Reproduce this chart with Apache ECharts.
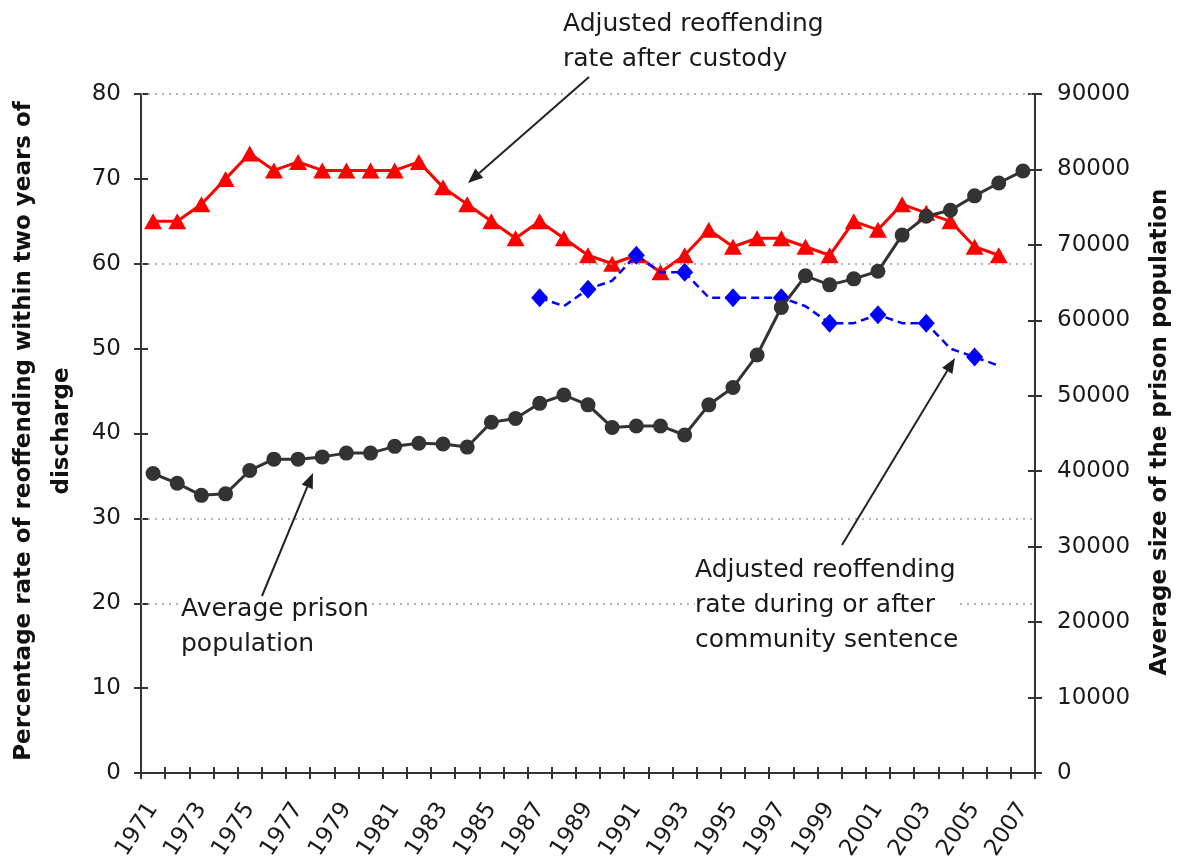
<!DOCTYPE html>
<html>
<head>
<meta charset="utf-8">
<title>Reoffending rates and prison population, 1971–2007</title>
<script src="https://cdn.jsdelivr.net/npm/echarts@6/dist/echarts.min.js"></script>
<style>
  html, body { margin: 0; padding: 0; background: #ffffff; }
  #chart { width: 1180px; height: 863px; }
</style>
</head>
<body>
<div id="chart"></div>
<script>
// Years on the category axis
const years = ['1971','1972','1973','1974','1975','1976','1977','1978','1979','1980',
  '1981','1982','1983','1984','1985','1986','1987','1988','1989','1990',
  '1991','1992','1993','1994','1995','1996','1997','1998','1999','2000',
  '2001','2002','2003','2004','2005','2006','2007'];

// Adjusted reoffending rate after custody (%), 1971–2006
const custodyRate = [65, 65, 67, 70, 73, 71, 72, 71, 71, 71,
  71, 72, 69, 67, 65, 63, 65, 63, 61, 60,
  61, 59, 61, 64, 62, 63, 63, 62, 61, 65,
  64, 67, 66, 65, 62, 61];

// Adjusted reoffending rate during or after community sentence (%), 1987–2006
const communityYears = ['1987','1988','1989','1990','1991','1992','1993','1994','1995','1996',
  '1997','1998','1999','2000','2001','2002','2003','2004','2005','2006'];
const communityRate = [56, 55, 57, 58, 61, 59, 59, 56, 56, 56,
  56, 55, 53, 53, 54, 53, 53, 50, 49, 48];

// Average prison population, 1971–2007
const prisonPopulation = [39700, 38400, 36800, 37000, 40100, 41600, 41600, 41900, 42400, 42400,
  43300, 43700, 43600, 43200, 46500, 47000, 49000, 50100, 48800, 45800,
  46000, 46000, 44800, 48800, 51100, 55400, 61700, 65900, 64700, 65500,
  66500, 71300, 73800, 74600, 76500, 78200, 79800];

// Left-axis levels that carry a dotted guide line
const guideLevels = [20, 30, 60, 80];

const FONT = 'DejaVu Sans';
const AXIS_COLOR = '#333333';
const TEXT_COLOR = '#1a1a1a';

const chart = echarts.init(document.getElementById('chart'), null, { renderer: 'canvas' });

const gridBox = { left: 141, right: 145, top: 94, bottom: 90 };

function valueAxis(position, max, interval, withLabels) {
  return {
    type: 'value',
    position: position,
    min: 0,
    max: max,
    interval: interval,
    splitLine: { show: false },
    axisLine: { show: withLabels, lineStyle: { color: AXIS_COLOR, width: 2 } },
    axisTick: { show: true, inside: !withLabels, length: 7, lineStyle: { color: AXIS_COLOR, width: 2 } },
    axisLabel: withLabels ? {
      show: true, fontFamily: FONT, fontSize: 23, color: TEXT_COLOR,
      margin: position === 'left' ? 20 : 22,
      formatter: v => String(v)
    } : { show: false }
  };
}

// Arrow from (x1,y1) pointing at (x2,y2)
function arrow(x1, y1, x2, y2) {
  const ang = Math.atan2(y2 - y1, x2 - x1);
  const len = 15, half = 6;
  const bx = x2 - len * Math.cos(ang), by = y2 - len * Math.sin(ang);
  const px = -Math.sin(ang) * half, py = Math.cos(ang) * half;
  return [
    { type: 'line', silent: true, z: 50,
      shape: { x1: x1, y1: y1, x2: bx, y2: by },
      style: { stroke: '#222', lineWidth: 2 } },
    { type: 'polygon', silent: true, z: 50,
      shape: { points: [[x2, y2], [bx + px, by + py], [bx - px, by - py]] },
      style: { fill: '#222' } }
  ];
}

function note(x, y, text) {
  return {
    type: 'text', silent: true, z: 40, left: x, top: y,
    style: {
      text: text, font: '25px "' + FONT + '"', fill: TEXT_COLOR,
      lineHeight: 35, backgroundColor: '#ffffff'
    }
  };
}

const option = {
  animation: false,
  backgroundColor: '#ffffff',
  grid: gridBox,
  xAxis: [
    {
      type: 'category',
      data: years,
      boundaryGap: true,
      axisLine: { lineStyle: { color: AXIS_COLOR, width: 2 } },
      axisTick: { show: true, interval: 0, length: 6, lineStyle: { color: AXIS_COLOR, width: 2 } },
      axisLabel: { interval: 1, rotate: 57, fontFamily: FONT, fontSize: 23, color: TEXT_COLOR, margin: 32 },
      splitLine: { show: false }
    },
    {
      type: 'category',
      data: years,
      position: 'bottom',
      boundaryGap: true,
      axisLine: { show: false },
      axisTick: { show: true, inside: true, interval: 0, length: 6, lineStyle: { color: AXIS_COLOR, width: 2 } },
      axisLabel: { show: false },
      splitLine: { show: false }
    }
  ],
  yAxis: [
    valueAxis('left', 80, 10, true),
    valueAxis('right', 90000, 10000, true),
    valueAxis('left', 80, 10, false),
    valueAxis('right', 90000, 10000, false)
  ],
  series: [
    {
      name: 'guides',
      type: 'line',
      yAxisIndex: 0,
      data: [],
      silent: true,
      z: 1,
      markLine: {
        silent: true,
        symbol: ['none', 'none'],
        label: { show: false },
        lineStyle: { color: '#9a9a9a', type: [2, 5], width: 1.5 },
        data: guideLevels.map(v => ({ yAxis: v }))
      }
    },
    {
      name: 'Adjusted reoffending rate after custody',
      type: 'line',
      yAxisIndex: 0,
      data: custodyRate,
      symbol: 'triangle',
      symbolSize: [18, 16],
      itemStyle: { color: '#ff0000' },
      lineStyle: { color: '#ff0000', width: 3 },
      z: 3
    },
    {
      name: 'Adjusted reoffending rate during or after community sentence',
      type: 'line',
      yAxisIndex: 0,
      data: communityYears.map((y, i) => [y, communityRate[i]]),
      symbol: 'diamond',
      symbolSize: [17, 19],
      itemStyle: { color: '#0000ff' },
      lineStyle: { color: '#0000ff', width: 2.5, type: [8, 5] },
      z: 4
    },
    {
      name: 'Average prison population',
      type: 'line',
      yAxisIndex: 1,
      data: prisonPopulation,
      symbol: 'circle',
      symbolSize: 15,
      itemStyle: { color: '#333333' },
      lineStyle: { color: '#333333', width: 3 },
      z: 5
    }
  ],
  graphic: [
    // axis titles
    {
      type: 'text', silent: true, x: 43, y: 431, rotation: Math.PI / 2,
      style: {
        text: 'Percentage rate of reoffending within two years of\ndischarge',
        font: 'bold 23px "' + FONT + '"', fill: '#111', lineHeight: 38,
        textAlign: 'center', textVerticalAlign: 'middle'
      }
    },
    {
      type: 'text', silent: true, x: 1160, y: 432, rotation: Math.PI / 2,
      style: {
        text: 'Average size of the prison population',
        font: 'bold 23px "' + FONT + '"', fill: '#111',
        textAlign: 'center', textVerticalAlign: 'middle'
      }
    },
    // annotations
    note(563, 7, 'Adjusted reoffending\nrate after custody'),
    note(181, 592, 'Average prison\npopulation'),
    note(695, 553, 'Adjusted reoffending\nrate during or after\ncommunity sentence'),
    ...arrow(589, 77, 468, 183),
    ...arrow(262, 596, 313, 473),
    ...arrow(842, 545, 955, 358)
  ]
};

chart.setOption(option);
</script>
</body>
</html>
